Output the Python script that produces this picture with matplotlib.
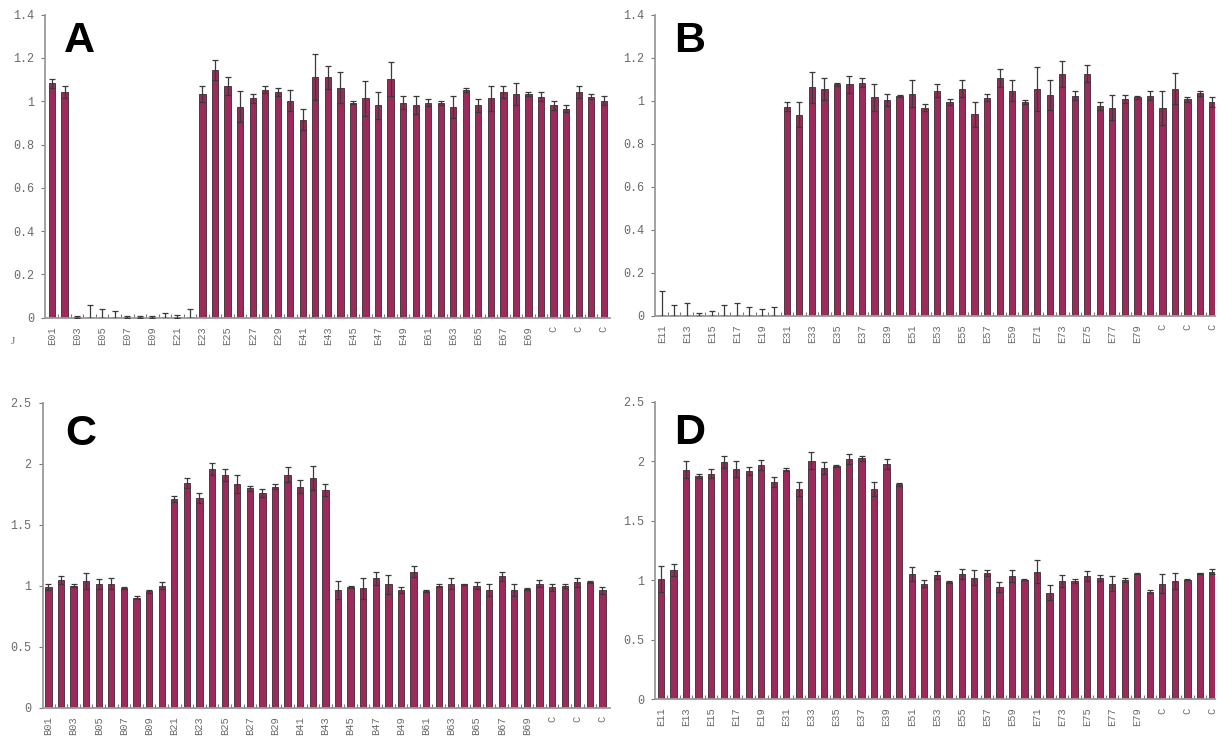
import numpy as np
import matplotlib
matplotlib.use("Agg")
import matplotlib.pyplot as plt
from matplotlib.ticker import FixedLocator, FuncFormatter

# ---------------- data ----------------
cats_A = ["E01", "E02", "E03", "E04", "E05", "E06", "E07", "E08", "E09", "E10",
          "E21", "E22", "E23", "E24", "E25", "E26", "E27", "E28", "E29", "E30",
          "E41", "E42", "E43", "E44", "E45", "E46", "E47", "E48", "E49", "E50",
          "E61", "E62", "E63", "E64", "E65", "E66", "E67", "E68", "E69", "E70",
          "C", "C", "C", "C", "C"]
vals_A = [1.083, 1.043, 0.005, 0.005, 0.005, 0.005, 0.003, 0.005, 0.005, 0.005,
          0.005, 0.005, 1.034, 1.143, 1.072, 0.974, 1.014, 1.054, 1.043, 1.003,
          0.914, 1.112, 1.112, 1.063, 0.994, 1.014, 0.981, 1.103, 0.994, 0.981,
          0.994, 0.994, 0.974, 1.054, 0.981, 1.014, 1.043, 1.034, 1.034, 1.022,
          0.981, 0.965, 1.043, 1.022, 1.003]
errs_A = [0.020, 0.027, 0.005, 0.055, 0.035, 0.025, 0.003, 0.005, 0.005, 0.015,
          0.007, 0.035, 0.038, 0.047, 0.042, 0.072, 0.021, 0.018, 0.020, 0.049,
          0.049, 0.105, 0.053, 0.073, 0.006, 0.080, 0.064, 0.080, 0.029, 0.042,
          0.018, 0.009, 0.049, 0.009, 0.031, 0.058, 0.029, 0.052, 0.011, 0.023,
          0.022, 0.016, 0.029, 0.012, 0.020]

cats_B = ["E11", "E12", "E13", "E14", "E15", "E16", "E17", "E18", "E19", "E20",
          "E31", "E32", "E33", "E34", "E35", "E36", "E37", "E38", "E39", "E40",
          "E51", "E52", "E53", "E54", "E55", "E56", "E57", "E58", "E59", "E60",
          "E71", "E72", "E73", "E74", "E75", "E76", "E77", "E78", "E79", "E80",
          "C", "C", "C", "C", "C"]
vals_B = [0.003, 0.003, 0.003, 0.003, 0.003, 0.003, 0.003, 0.003, 0.003, 0.003,
          0.972, 0.935, 1.062, 1.054, 1.076, 1.076, 1.084, 1.016, 1.005, 1.022,
          1.033, 0.967, 1.047, 0.994, 1.056, 0.936, 1.014, 1.104, 1.047, 0.994,
          1.056, 1.025, 1.126, 1.023, 1.126, 0.975, 0.967, 1.006, 1.016, 1.023,
          0.967, 1.056, 1.006, 1.034, 0.994]
errs_B = [0.110, 0.048, 0.056, 0.008, 0.017, 0.047, 0.056, 0.036, 0.028, 0.036,
          0.022, 0.057, 0.073, 0.050, 0.008, 0.040, 0.020, 0.062, 0.028, 0.005,
          0.062, 0.016, 0.031, 0.012, 0.039, 0.058, 0.017, 0.042, 0.048, 0.009,
          0.102, 0.070, 0.060, 0.022, 0.041, 0.019, 0.058, 0.019, 0.007, 0.022,
          0.080, 0.071, 0.010, 0.011, 0.022]

cats_C = ["B01", "B02", "B03", "B04", "B05", "B06", "B07", "B08", "B09", "B10",
          "B21", "B22", "B23", "B24", "B25", "B26", "B27", "B28", "B29", "B30",
          "B41", "B42", "B43", "B44", "B45", "B46", "B47", "B48", "B49", "B50",
          "B61", "B62", "B63", "B64", "B65", "B66", "B67", "B68", "B69", "B70",
          "C", "C", "C", "C", "C"]
vals_C = [0.986, 1.046, 1.000, 1.038, 1.011, 1.016, 0.978, 0.902, 0.954, 1.000,
          1.710, 1.842, 1.721, 1.959, 1.910, 1.833, 1.800, 1.762, 1.811, 1.910,
          1.811, 1.883, 1.784, 0.964, 0.992, 0.978, 1.060, 1.011, 0.964, 1.115,
          0.956, 1.000, 1.016, 1.011, 1.000, 0.964, 1.077, 0.964, 0.970, 1.016,
          0.986, 1.000, 1.027, 1.033, 0.964]
errs_C = [0.025, 0.031, 0.011, 0.063, 0.041, 0.047, 0.008, 0.011, 0.010, 0.030,
          0.025, 0.043, 0.041, 0.049, 0.049, 0.077, 0.020, 0.033, 0.020, 0.060,
          0.052, 0.098, 0.047, 0.074, 0.008, 0.085, 0.055, 0.079, 0.025, 0.046,
          0.011, 0.011, 0.047, 0.005, 0.030, 0.050, 0.038, 0.052, 0.008, 0.028,
          0.030, 0.016, 0.039, 0.008, 0.028]

cats_D = cats_B
vals_D = [1.013, 1.083, 1.929, 1.876, 1.895, 1.993, 1.934, 1.918, 1.965, 1.825,
          1.929, 1.767, 2.004, 1.946, 1.957, 2.016, 2.024, 1.767, 1.979, 1.806,
          1.050, 0.971, 1.041, 0.988, 1.050, 1.022, 1.061, 0.943, 1.033, 1.005,
          1.072, 0.896, 0.994, 0.994, 1.033, 1.019, 0.971, 1.002, 1.055, 0.904,
          0.971, 0.994, 1.005, 1.058, 1.072]
errs_D = [0.110, 0.051, 0.070, 0.014, 0.037, 0.054, 0.065, 0.036, 0.042, 0.039,
          0.014, 0.061, 0.070, 0.050, 0.008, 0.042, 0.020, 0.061, 0.042, 0.014,
          0.059, 0.028, 0.034, 0.009, 0.042, 0.061, 0.022, 0.042, 0.050, 0.006,
          0.098, 0.061, 0.053, 0.017, 0.042, 0.025, 0.062, 0.020, 0.006, 0.014,
          0.079, 0.067, 0.006, 0.006, 0.020]

yticks_AB = [0, 0.2, 0.4, 0.6, 0.8, 1, 1.2, 1.4]
yticks_CD = [0, 0.5, 1, 1.5, 2, 2.5]

# ---------------- style ----------------
BAR = "#9c2a5b"
EDGE = "#3b2a30"
SPINE = "#9a9a9a"
TXT = "#6a6a6a"
W, H = 1218, 738

fig = plt.figure(figsize=(W / 100, H / 100), dpi=100)


def px_axes(left, right, top, bottom):
    return fig.add_axes([left / W, 1 - bottom / H, (right - left) / W, (bottom - top) / H])


def draw(ax, cats, vals, errs, yticks, xlim):
    x = np.arange(len(cats))
    ax.bar(x, vals, width=0.5, color=BAR, edgecolor=EDGE, linewidth=0.6, zorder=2)
    ax.errorbar(x, vals, yerr=errs, fmt="none", ecolor="#3a3a3a", elinewidth=0.9,
                capsize=2, capthick=0.9, zorder=3)
    ax.set_xlim(*xlim)
    ax.set_ylim(0, yticks[-1])
    ax.set_xticks(x[::2])
    ax.set_xticklabels(cats[::2], rotation=90, family="Liberation Mono",
                       fontsize=7.5, color=TXT, va="top", ha="center")
    ax.xaxis.set_minor_locator(FixedLocator(x[:-1] + 0.5))
    ax.tick_params(axis="x", which="major", length=0, pad=6)
    ax.tick_params(axis="x", which="minor", direction="in", length=3, width=0.8,
                   color="#777777")
    ax.set_yticks(yticks)
    ax.yaxis.set_major_formatter(FuncFormatter(lambda v, p: "%g" % v))
    for lab in ax.get_yticklabels():
        lab.set_family("Liberation Mono")
        lab.set_fontsize(8.5)
        lab.set_color(TXT)
    ax.tick_params(axis="y", direction="out", length=3, width=0.8, color="#777777", pad=5)
    for s in ("top", "right"):
        ax.spines[s].set_visible(False)
    for s in ("left", "bottom"):
        ax.spines[s].set_color(SPINE)
        ax.spines[s].set_linewidth(1.3)
    ax.set_facecolor("white")


axA = px_axes(45, 610, 14.7, 317.7)
draw(axA, cats_A, vals_A, errs_A, yticks_AB, (-0.56, 44.5))
axB = px_axes(655, 1215, 14.7, 315.7)
draw(axB, cats_B, vals_B, errs_B, yticks_AB, (-0.53, 44.2))
axC = px_axes(42.7, 610, 402.7, 707.7)
draw(axC, cats_C, vals_C, errs_C, yticks_CD, (-0.45, 44.6))
axD = px_axes(655, 1215, 401.7, 699.3)
draw(axD, cats_D, vals_D, errs_D, yticks_CD, (-0.48, 44.2))

# panel letters
for letter, lx, base in (("A", 64, 52), ("B", 674, 52), ("C", 65, 445), ("D", 674, 444)):
    fig.text(lx / W, 1 - base / H, letter, fontsize=31, fontweight="bold",
             family="Liberation Sans", color="black", ha="left", va="baseline")

fig.text(13 / W, 1 - 342 / H, "J", fontsize=8, color=TXT, family="Liberation Serif",
         ha="center", va="center")

fig.savefig("out.png", dpi=100, facecolor="white")
